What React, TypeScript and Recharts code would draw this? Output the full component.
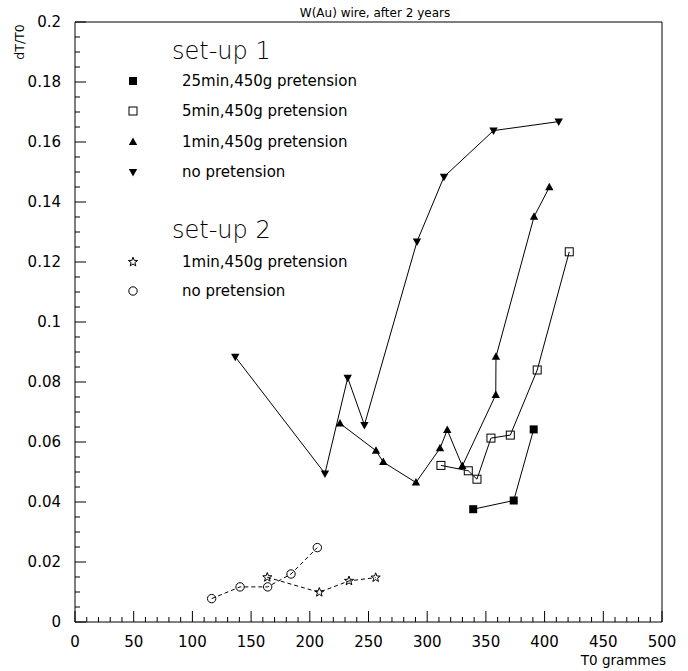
import React from 'react';
import { ScatterChart, Scatter, XAxis, YAxis, ReferenceArea } from 'recharts';

// set-up 1
const noPretX = [136.5, 212.9, 232.3, 246.5, 291.3, 314.3, 356.5, 412];
const noPretY = [0.0884, 0.0495, 0.0814, 0.0657, 0.1268, 0.1484, 0.1638, 0.1668];

const oneMinX = [225.7, 256.4, 262.6, 290.4, 310.9, 317.1, 329.9, 358.4, 358.6, 391, 404];
const oneMinY = [0.0662, 0.0571, 0.0533, 0.0465, 0.0579, 0.064, 0.052, 0.0757, 0.0884, 0.1351, 0.1449];

const fiveMinX = [311.7, 335, 342.4, 354.3, 370.8, 393.7, 421];
const fiveMinY = [0.0522, 0.0504, 0.0476, 0.0613, 0.0623, 0.084, 0.1234];

const twentyFiveMinX = [339.2, 373.7, 390.7];
const twentyFiveMinY = [0.0376, 0.0405, 0.0642];

// set-up 2
const s2OneMinX = [163.8, 208.1, 233.4, 256.1];
const s2OneMinY = [0.0149, 0.0099, 0.0137, 0.0148];

const s2NoPretX = [116.4, 140.6, 164.1, 184, 206.4];
const s2NoPretY = [0.0078, 0.0117, 0.0117, 0.016, 0.0248];

// axes
const xMajor = [0, 50, 100, 150, 200, 250, 300, 350, 400, 450, 500];
const xLabels = ['0', '50', '100', '150', '200', '250', '300', '350', '400', '450', '500'];
const yMajor = [0, 0.02, 0.04, 0.06, 0.08, 0.1, 0.12, 0.14, 0.16, 0.18, 0.2];
const yLabels = ['0', '0.02', '0.04', '0.06', '0.08', '0.1', '0.12', '0.14', '0.16', '0.18', '0.2'];
const xTicks = Array.from({ length: 51 }, (_, i) => i * 10);
const yTicks = Array.from({ length: 41 }, (_, i) => Math.round(i * 5) / 1000);

const toPts = (xs: number[], ys: number[]) => xs.map((x, i) => ({ x, y: ys[i] }));

const FONT = '"DejaVu Sans", sans-serif';

const starPoints = (cx: number, cy: number, R = 4.8, r = 2) => {
  const pts: string[] = [];
  for (let i = 0; i < 10; i++) {
    const a = -Math.PI / 2 + (i * Math.PI) / 5;
    const rad = i % 2 === 0 ? R : r;
    pts.push(`${cx + rad * Math.cos(a)},${cy + rad * Math.sin(a)}`);
  }
  return pts.join(' ');
};

const Marker = ({ kind, cx, cy }: { kind: string; cx: number; cy: number }) => {
  if (cx == null || cy == null) return null;
  switch (kind) {
    case 'fsq':
      return <rect x={cx - 4} y={cy - 4} width={8} height={8} fill="#000" />;
    case 'osq':
      return <rect x={cx - 4} y={cy - 4} width={8} height={8} fill="none" stroke="#000" strokeWidth={1} />;
    case 'up':
      return <polygon points={`${cx},${cy - 4.5} ${cx - 4.2},${cy + 3} ${cx + 4.2},${cy + 3}`} fill="#000" />;
    case 'down':
      return <polygon points={`${cx},${cy + 4.5} ${cx - 4.2},${cy - 3} ${cx + 4.2},${cy - 3}`} fill="#000" />;
    case 'star':
      return <polygon points={starPoints(cx, cy)} fill="none" stroke="#000" strokeWidth={1} />;
    default:
      return <circle cx={cx} cy={cy} r={4.2} fill="none" stroke="#000" strokeWidth={1} />;
  }
};

const XTick = (props: any) => {
  const { x, y, payload } = props;
  const v = payload.value;
  const idx = xMajor.indexOf(v);
  const major = idx >= 0;
  return (
    <g>
      <line x1={x} x2={x} y1={y} y2={y - (major ? 11 : 5)} stroke="#000" strokeWidth={1} />
      {major && (
        <text x={x} y={y + 25} textAnchor="middle" fontSize={15} fontFamily={FONT} fill="#000">
          {xLabels[idx]}
        </text>
      )}
    </g>
  );
};

const YTick = (props: any) => {
  const { x, y, payload } = props;
  const v = payload.value;
  const idx = yMajor.findIndex((m) => Math.abs(m - v) < 1e-9);
  const major = idx >= 0;
  return (
    <g>
      <line x1={x} x2={x + (major ? 11 : 5)} y1={y} y2={y} stroke="#000" strokeWidth={1} />
      {major && (
        <text x={x - 14} y={y + 5} textAnchor="end" fontSize={15} fontFamily={FONT} fill="#000">
          {yLabels[idx]}
        </text>
      )}
    </g>
  );
};

const legend1 = [
  { kind: 'fsq', label: '25min,450g pretension' },
  { kind: 'osq', label: '5min,450g pretension' },
  { kind: 'up', label: '1min,450g pretension' },
  { kind: 'down', label: 'no pretension' },
];
const legend2 = [
  { kind: 'star', label: '1min,450g pretension' },
  { kind: 'circ', label: 'no pretension' },
];
const legend1Y = [81, 111, 142, 172];
const legend2Y = [262, 291];

export default function App() {
  const solid = { stroke: '#000', strokeWidth: 1 };
  const dashed = { stroke: '#000', strokeWidth: 1, strokeDasharray: '4 3' };
  return (
    <div style={{ position: 'absolute', left: 0, top: 0, width: 688, height: 671, background: '#fff' }}>
      <ScatterChart width={688} height={671} margin={{ top: 22, right: 26, bottom: 0, left: 0 }}>
        <XAxis
          dataKey="x"
          type="number"
          domain={[0, 500]}
          ticks={xTicks}
          interval={0}
          tickLine={false}
          axisLine={false}
          tickSize={0}
          tickMargin={0}
          height={49}
          tick={<XTick />}
        />
        <YAxis
          dataKey="y"
          type="number"
          domain={[0, 0.2]}
          ticks={yTicks}
          interval={0}
          tickLine={false}
          axisLine={false}
          tickSize={0}
          tickMargin={0}
          width={75}
          tick={<YTick />}
        />
        <ReferenceArea x1={0} x2={500} y1={0} y2={0.2} fill="none" stroke="#000" strokeWidth={1} />
        <Scatter data={toPts(noPretX, noPretY)} line={solid} isAnimationActive={false}
          shape={(p: any) => <Marker kind="down" cx={p.cx} cy={p.cy} />} />
        <Scatter data={toPts(oneMinX, oneMinY)} line={solid} isAnimationActive={false}
          shape={(p: any) => <Marker kind="up" cx={p.cx} cy={p.cy} />} />
        <Scatter data={toPts(fiveMinX, fiveMinY)} line={solid} isAnimationActive={false}
          shape={(p: any) => <Marker kind="osq" cx={p.cx} cy={p.cy} />} />
        <Scatter data={toPts(twentyFiveMinX, twentyFiveMinY)} line={solid} isAnimationActive={false}
          shape={(p: any) => <Marker kind="fsq" cx={p.cx} cy={p.cy} />} />
        <Scatter data={toPts(s2OneMinX, s2OneMinY)} line={dashed} isAnimationActive={false}
          shape={(p: any) => <Marker kind="star" cx={p.cx} cy={p.cy} />} />
        <Scatter data={toPts(s2NoPretX, s2NoPretY)} line={dashed} isAnimationActive={false}
          shape={(p: any) => <Marker kind="circ" cx={p.cx} cy={p.cy} />} />
      </ScatterChart>
      <svg width={688} height={671} style={{ position: 'absolute', left: 0, top: 0, pointerEvents: 'none' }}>
        <text x={375} y={17} textAnchor="middle" fontSize={12} fontFamily={FONT} fill="#000">W(Au) wire, after 2 years</text>
        <text transform="translate(24,42) rotate(-90)" textAnchor="middle" fontSize={12.5} fontFamily={FONT} fill="#000">dT/T0</text>
        <text x={666} y={665} textAnchor="end" fontSize={13.5} fontFamily={FONT} fill="#000">T0 grammes</text>
        <text x={172} y={59} fontSize={24} fontFamily={FONT} fontWeight={300} fill="#000">set-up 1</text>
        {legend1.map((e, i) => (
          <g key={e.kind}>
            <Marker kind={e.kind} cx={133} cy={legend1Y[i]} />
            <text x={182} y={legend1Y[i] + 5} fontSize={15} fontFamily={FONT} fill="#000">{e.label}</text>
          </g>
        ))}
        <text x={172} y={238} fontSize={24} fontFamily={FONT} fontWeight={300} fill="#000">set-up 2</text>
        {legend2.map((e, i) => (
          <g key={e.kind}>
            <Marker kind={e.kind} cx={133} cy={legend2Y[i]} />
            <text x={182} y={legend2Y[i] + 5} fontSize={15} fontFamily={FONT} fill="#000">{e.label}</text>
          </g>
        ))}
      </svg>
    </div>
  );
}
